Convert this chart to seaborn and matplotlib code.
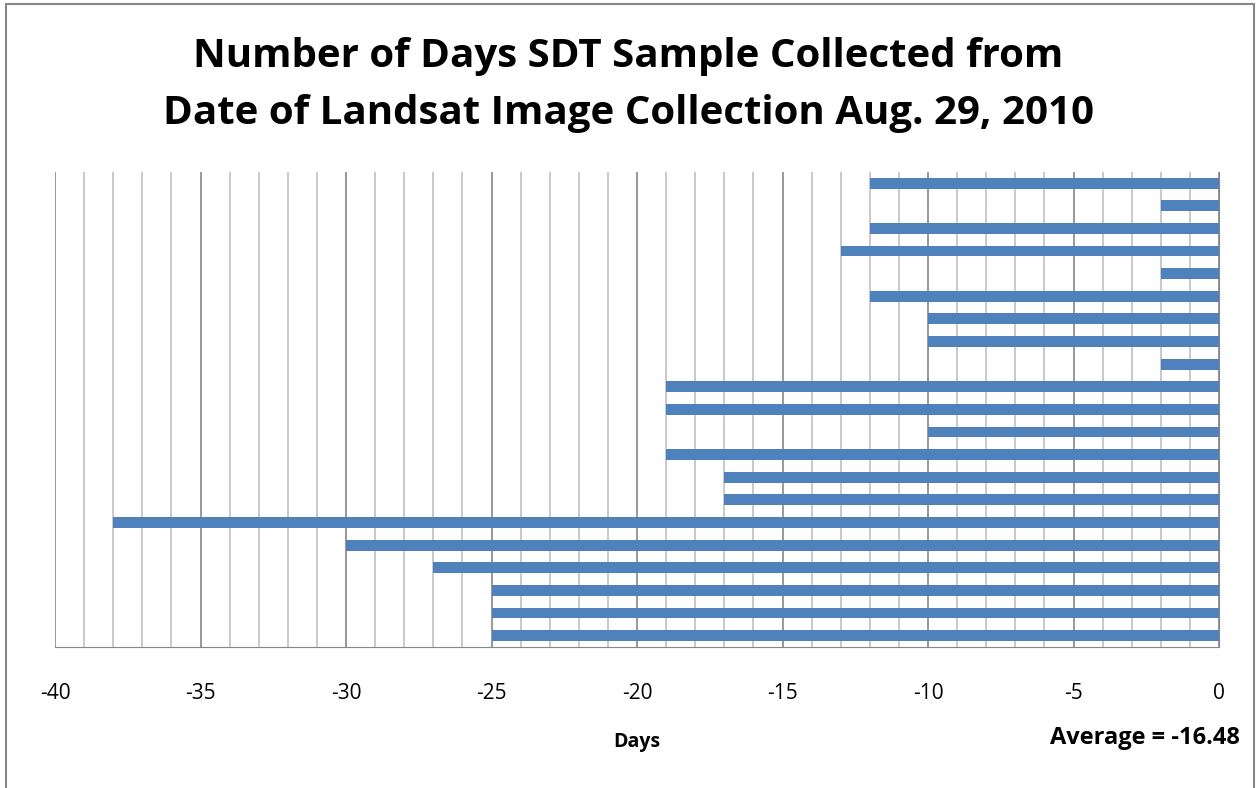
import pandas as pd
import matplotlib.pyplot as plt
import seaborn as sns
from matplotlib.ticker import MultipleLocator
from matplotlib.patches import Rectangle

# Données : écart en jours entre prélèvement SDT et image Landsat (du haut vers le bas)
samples = [f"S{i}" for i in range(1, 22)]
days = [-12, -2, -12, -13, -2, -12, -10, -10, -2, -19, -19,
        -10, -19, -17, -17, -38, -30, -27, -25, -25, -25]
average_label = "Average = -16.48"

df = pd.DataFrame({"Sample": samples, "Days": days})

sns.set_style("white")
plt.rcParams['font.family'] = ['Open Sans', 'DejaVu Sans']
plt.rcParams['axes.unicode_minus'] = False
plt.rcParams['text.color'] = 'black'
plt.rcParams['xtick.labelcolor'] = 'black'

fig = plt.figure(figsize=(12.57, 7.88), dpi=100)
ax = fig.add_axes([0.0438, 0.179, 0.926, 0.603])

sns.barplot(data=df, x="Days", y="Sample", orient="h", color="#4F81BD",
            width=0.48, saturation=1, edgecolor="none", linewidth=0, ax=ax)

ax.set_xlim(-40, 0)
ax.set_ylim(len(samples) - 0.5, -0.5)
ax.xaxis.set_major_locator(MultipleLocator(5))
ax.xaxis.set_minor_locator(MultipleLocator(1))
ax.grid(axis="x", which="major", color="#868686", linewidth=1.2)
ax.grid(axis="x", which="minor", color="#C0C0C0", linewidth=1.2)
ax.set_axisbelow(True)
ax.set_yticks([])
ax.set_ylabel("")

for s in ["top", "left"]:
    ax.spines[s].set_visible(False)
ax.spines["bottom"].set_color("#868686")
ax.spines["right"].set_color("#868686")
ax.tick_params(axis="x", which="major", direction="out", length=8, width=1.2,
               color="#868686", labelsize=15, pad=18)
ax.tick_params(axis="x", which="minor", length=0)

ax.set_xlabel("Days", fontsize=14, fontweight="bold", labelpad=20, color="black")

fig.suptitle("Number of Days SDT Sample Collected from\nDate of Landsat Image Collection Aug. 29, 2010",
             fontsize=29, fontweight="bold", y=0.953, linespacing=1.6, color="black")
fig.text(0.986, 0.063, average_label, ha="right", va="center",
         fontsize=17, fontweight="bold", color="black")

fig.patches.append(Rectangle((0.005, -0.02), 0.993, 1.015, transform=fig.transFigure,
                             fill=False, edgecolor="#868686", linewidth=1.5))

plt.savefig("out.png", dpi=100)
